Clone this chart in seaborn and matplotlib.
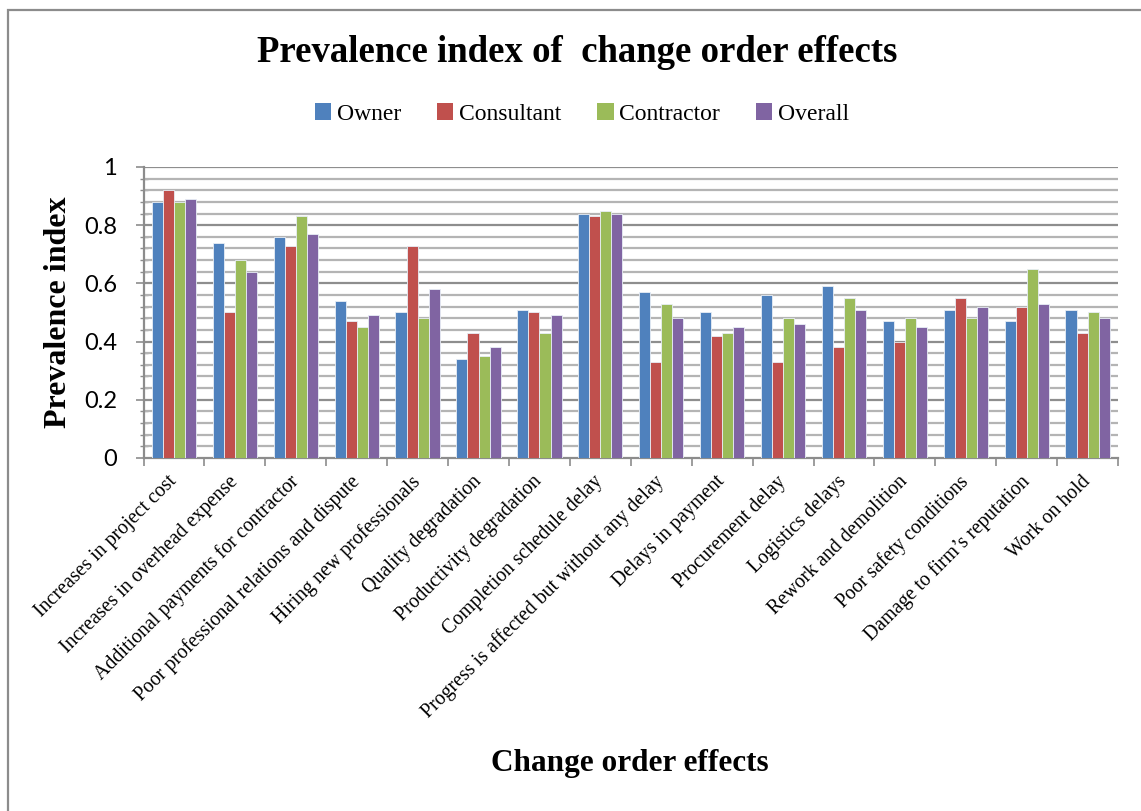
import numpy as np
import pandas as pd
import matplotlib
matplotlib.use("Agg")
import matplotlib.pyplot as plt
from matplotlib.patches import Rectangle
from matplotlib.ticker import MultipleLocator, FixedLocator, NullFormatter
import seaborn as sns

effects = [
    "Increases in project cost",
    "Increases in overhead expense",
    "Additional payments for contractor",
    "Poor professional relations and dispute",
    "Hiring new professionals",
    "Quality degradation",
    "Productivity degradation",
    "Completion schedule delay",
    "Progress is affected but without any delay",
    "Delays in payment",
    "Procurement delay",
    "Logistics delays",
    "Rework and demolition",
    "Poor safety conditions",
    "Damage to firm\u2019s reputation",
    "Work on hold",
]
owner = [0.88, 0.74, 0.76, 0.54, 0.50, 0.34, 0.51, 0.84, 0.57, 0.50, 0.56, 0.59, 0.47, 0.51, 0.47, 0.51]
consultant = [0.92, 0.50, 0.73, 0.47, 0.73, 0.43, 0.50, 0.83, 0.33, 0.42, 0.33, 0.38, 0.40, 0.55, 0.52, 0.43]
contractor = [0.88, 0.68, 0.83, 0.45, 0.48, 0.35, 0.43, 0.85, 0.53, 0.43, 0.48, 0.55, 0.48, 0.48, 0.65, 0.50]
overall = [0.89, 0.64, 0.77, 0.49, 0.58, 0.38, 0.49, 0.84, 0.48, 0.45, 0.46, 0.51, 0.45, 0.52, 0.53, 0.48]

groups = ["Owner", "Consultant", "Contractor", "Overall"]
colors = ["#4F81BD", "#C0504D", "#9BBB59", "#8064A2"]

df = pd.DataFrame({
    "effect": effects * 4,
    "group": np.repeat(groups, len(effects)),
    "value": owner + consultant + contractor + overall,
})

sns.set_theme(style="white")
serif = ["Liberation Serif", "DejaVu Serif"]
plt.rcParams["font.family"] = serif
plt.rcParams["text.color"] = "black"
plt.rcParams["xtick.color"] = "black"
plt.rcParams["ytick.color"] = "black"
plt.rcParams["xtick.labelcolor"] = "black"
plt.rcParams["ytick.labelcolor"] = "black"

fig = plt.figure(figsize=(11.41, 8.11), dpi=100)
ax = fig.add_axes([0.1258, 0.4353, 0.9799 - 0.1258, 0.7941 - 0.4353])

# outer chart frame (top and left edges visible)
fig.patches.append(Rectangle((8 / 1141, -0.05), 1.2, (811 - 10) / 811 + 0.05,
                             transform=fig.transFigure, fill=False,
                             edgecolor="#8C8C8C", linewidth=1.6, zorder=0))

sns.barplot(data=df, x="effect", y="value", hue="group", order=effects,
            hue_order=groups, palette=colors, width=0.727, gap=0,
            edgecolor="#E8EEF6", linewidth=0.6, saturation=1, ax=ax,
            legend=False, zorder=3)

ax.set_xlim(-0.5, len(effects) - 0.5)
ax.set_ylim(0, 1)

# gridlines every 0.04, darker at each labelled 0.2 step
for v in np.arange(0.04, 1.0001, 0.04):
    major = abs(v / 0.2 - round(v / 0.2)) < 1e-6
    ax.axhline(v, color="#8E8E8E" if major else "#B4B4B4", linewidth=1.6, zorder=1)

ax.yaxis.set_minor_locator(MultipleLocator(0.04))
ax.set_yticks(np.arange(0, 1.01, 0.2))
ax.set_yticklabels(["0", "0.2", "0.4", "0.6", "0.8", "1"], family=["Lato", "DejaVu Sans"], fontsize=17)
ax.tick_params(axis="y", which="major", direction="out", length=6, width=1.2, color="#8C8C8C", pad=13, left=True)
ax.tick_params(axis="y", which="minor", direction="inout", length=6, width=1.0, color="#8C8C8C", left=True)

ax.set_xticks(range(len(effects)))
ax.set_xticklabels(effects, rotation=45, ha="right", va="center", rotation_mode="anchor", fontsize=14.3)
ax.xaxis.set_minor_locator(FixedLocator(np.arange(-0.5, len(effects), 1.0)))
ax.xaxis.set_minor_formatter(NullFormatter())
ax.tick_params(axis="x", which="major", length=0, pad=15)
ax.tick_params(axis="x", which="minor", direction="out", length=6, width=1.2, color="#8C8C8C", bottom=True)

for side in ["top", "right"]:
    ax.spines[side].set_visible(False)
for side in ["left", "bottom"]:
    ax.spines[side].set_color("#8C8C8C")
    ax.spines[side].set_linewidth(1.6)

ax.set_xlabel("")
ax.set_ylabel("")

fig.text(577 / 1141, 1 - 52 / 811, "Prevalence index of  change order effects", ha="center", va="center",
         fontsize=26.5, fontweight="bold")
fig.text(59 / 1141, 1 - 312 / 811, "Prevalence index", rotation=90, ha="center", va="center",
         fontsize=23, fontweight="bold")
fig.text(630 / 1141, 1 - 764 / 811, "Change order effects", ha="center", va="center",
         fontsize=22.5, fontweight="bold")

handles = [Rectangle((0, 0), 1, 1, facecolor=c, edgecolor="none") for c in colors]
fig.legend(handles, groups, loc="center", bbox_to_anchor=(582 / 1141, 1 - 114 / 811), ncol=4,
           frameon=False, fontsize=17, handlelength=0.7, handleheight=0.7, handletextpad=0.25,
           columnspacing=1.5)

fig.savefig("out.png", dpi=100, facecolor="white")
